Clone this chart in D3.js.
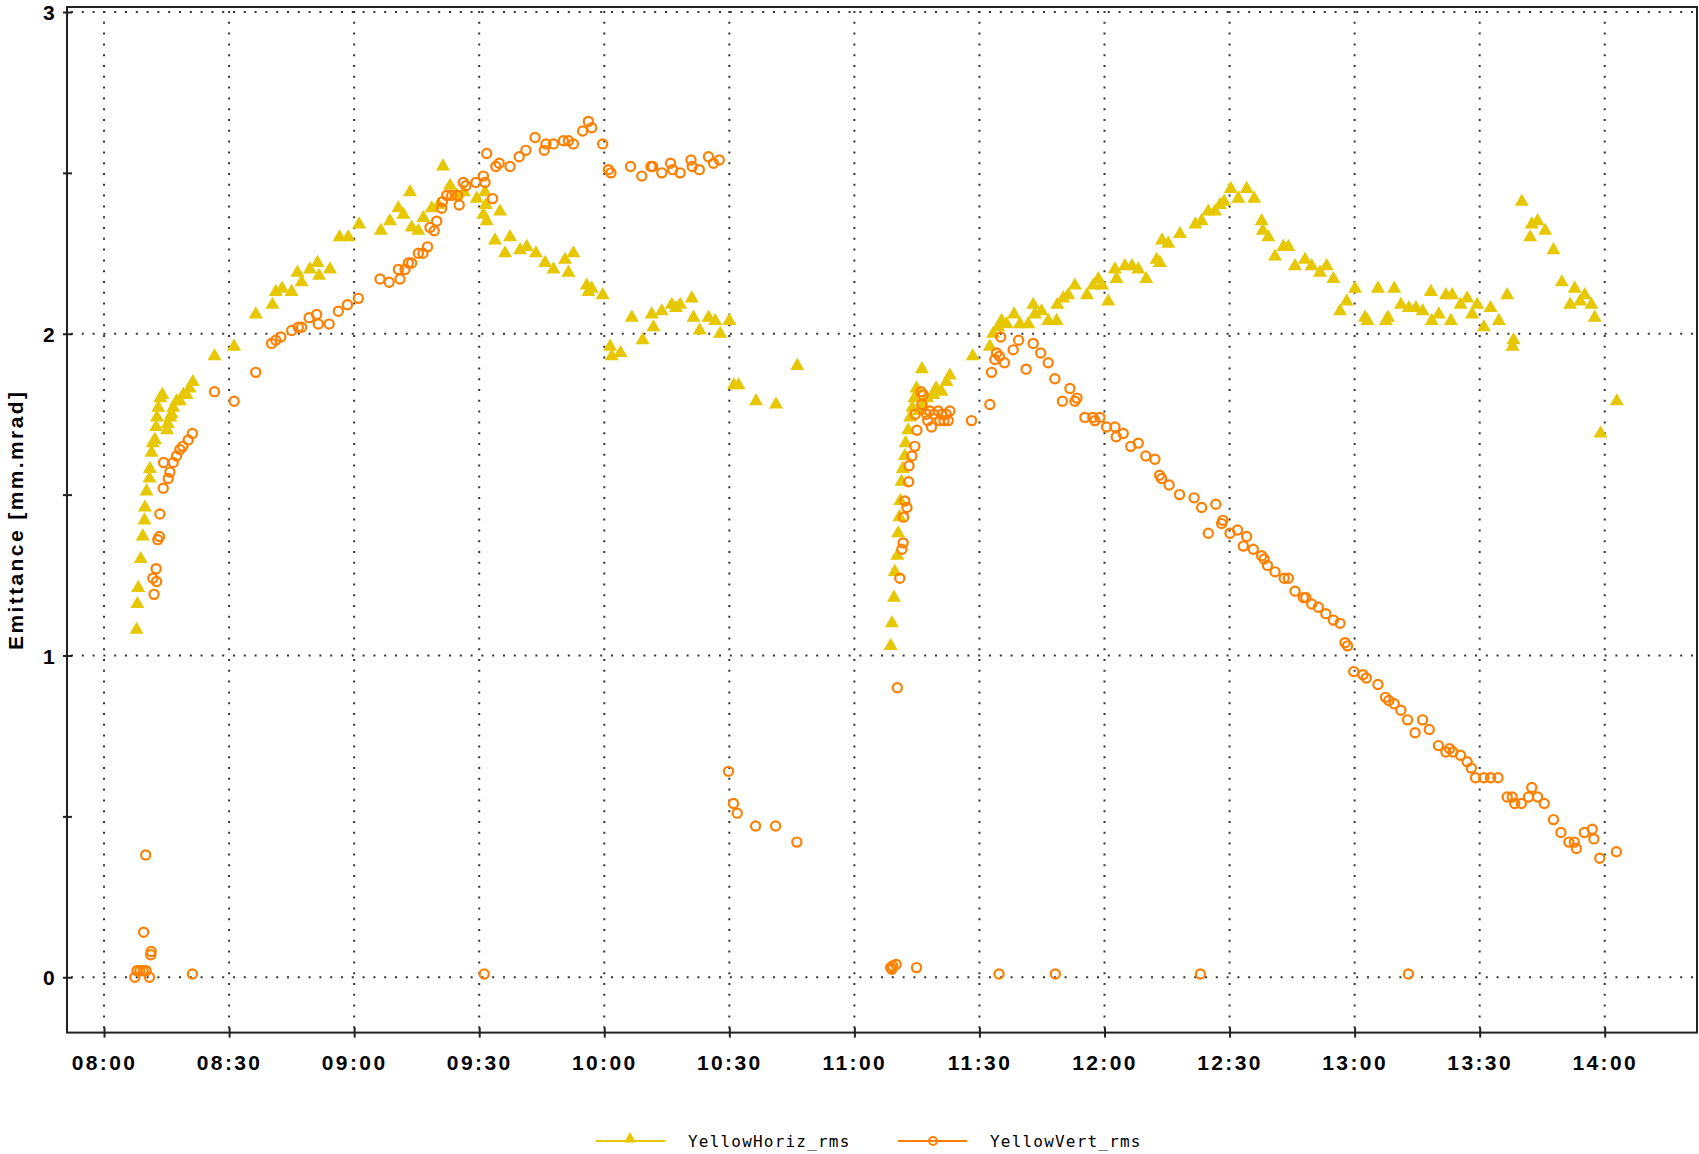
<!DOCTYPE html>
<html>
<head>
<meta charset="utf-8">
<script src="https://cdn.jsdelivr.net/npm/d3@7"></script>
<style>
	body { margin: 0; background: #fff; }
	.axis text { font-family: "Liberation Sans", Arial, sans-serif; font-weight: bold; font-size: 21px; letter-spacing: 2.4px; fill: #000; }
	.title { font-family: "Liberation Sans", Arial, sans-serif; font-weight: bold; font-size: 21px; letter-spacing: 2.4px; }
	.legend text { font-family: "DejaVu Sans Mono", monospace; font-size: 16px; letter-spacing: 1.2px; fill: #000; }
</style>
</head>
<body>
<div class="container"></div>
<script>
// axis ticks
var xTicks = ["08:00", "08:30", "09:00", "09:30", "10:00", "10:30", "11:00",
	"11:30", "12:00", "12:30", "13:00", "13:30", "14:00"];
var xDomain = ["07:51:07", "14:22:08"];
var yTicks = [0, 1, 2, 3];
var yMinorTicks = [0.5, 1.5, 2.5];
var yDomain = [-0.172, 3.0155];
var yTitle = "Emittance [mm.mrad]";
var seriesNames = ["YellowHoriz_rms", "YellowVert_rms"];

// YellowHoriz_rms [time, mm.mrad]
var horizRms = [
	["08:07:48", 1.08], ["08:08:00", 1.16], ["08:08:12", 1.21], ["08:08:48", 1.30], ["08:09:18", 1.37],
	["08:09:42", 1.42], ["08:09:48", 1.46], ["08:10:12", 1.51], ["08:10:54", 1.55], ["08:11:00", 1.58],
	["08:11:24", 1.63], ["08:11:42", 1.66], ["08:12:12", 1.67], ["08:12:30", 1.71], ["08:12:42", 1.74],
	["08:13:00", 1.77], ["08:13:30", 1.80], ["08:14:00", 1.81], ["08:15:06", 1.70], ["08:15:18", 1.72],
	["08:15:54", 1.74], ["08:16:12", 1.75], ["08:16:36", 1.77], ["08:17:24", 1.79], ["08:18:12", 1.79],
	["08:19:00", 1.81], ["08:19:48", 1.81], ["08:20:30", 1.83], ["08:21:18", 1.85],
	["08:26:30", 1.93], ["08:31:12", 1.96], ["08:36:24", 2.06], ["08:40:24", 2.09], ["08:41:12", 2.13],
	["08:42:42", 2.14], ["08:45:00", 2.13], ["08:46:24", 2.19], ["08:47:24", 2.16], ["08:49:24", 2.20],
	["08:51:12", 2.22], ["08:51:36", 2.18], ["08:54:12", 2.20], ["08:56:30", 2.30], ["08:58:36", 2.30],
	["09:01:12", 2.34], ["09:06:24", 2.32], ["09:08:36", 2.35], ["09:10:36", 2.39], ["09:11:48", 2.37],
	["09:13:24", 2.44], ["09:13:48", 2.33], ["09:15:24", 2.32], ["09:16:36", 2.36], ["09:18:36", 2.39],
	["09:20:12", 2.40], ["09:21:18", 2.52], ["09:23:00", 2.46], ["09:24:36", 2.43], ["09:26:18", 2.44],
	["09:29:24", 2.42], ["09:31:24", 2.44], ["09:31:36", 2.40], ["09:31:00", 2.37], ["09:31:48", 2.35],
	["09:35:00", 2.38], ["09:33:48", 2.29], ["09:36:12", 2.25], ["09:37:24", 2.30], ["09:39:48", 2.26],
	["09:41:24", 2.27], ["09:43:36", 2.25], ["09:45:48", 2.22], ["09:47:48", 2.20], ["09:50:36", 2.23],
	["09:52:36", 2.25], ["09:51:24", 2.19], ["09:55:48", 2.15], ["09:56:12", 2.13], ["09:57:00", 2.14],
	["09:59:36", 2.12], ["10:01:24", 1.96], ["10:01:48", 1.93], ["10:03:54", 1.94], ["10:06:36", 2.05],
	["10:09:12", 1.98], ["10:11:24", 2.06], ["10:11:48", 2.02], ["10:13:48", 2.07], ["10:16:12", 2.09],
	["10:17:12", 2.08], ["10:18:12", 2.09], ["10:21:00", 2.11], ["10:21:24", 2.05], ["10:22:54", 2.01],
	["10:25:00", 2.05], ["10:26:36", 2.04], ["10:27:48", 2.00], ["10:30:00", 2.04], ["10:31:06", 1.84],
	["10:32:12", 1.84], ["10:36:24", 1.79], ["10:41:12", 1.78], ["10:46:18", 1.90],
	["11:08:42", 1.03], ["11:09:00", 1.10], ["11:09:30", 1.18], ["11:09:42", 1.26], ["11:10:18", 1.31],
	["11:10:30", 1.38], ["11:10:48", 1.43], ["11:11:00", 1.48], ["11:11:18", 1.54], ["11:11:36", 1.58],
	["11:12:06", 1.62], ["11:12:18", 1.66], ["11:12:54", 1.70], ["11:13:24", 1.74], ["11:13:54", 1.77],
	["11:14:24", 1.80], ["11:14:54", 1.83], ["11:16:12", 1.89], ["11:15:30", 1.76], ["11:16:30", 1.78],
	["11:17:24", 1.80], ["11:18:54", 1.81], ["11:19:36", 1.83], ["11:20:54", 1.82], ["11:22:06", 1.85],
	["11:22:54", 1.87], ["11:28:24", 1.93], ["11:32:30", 1.96], ["11:33:18", 2.00], ["11:34:30", 2.02],
	["11:35:18", 2.04], ["11:36:30", 2.03], ["11:38:18", 2.06], ["11:39:42", 2.03], ["11:41:42", 2.03],
	["11:42:54", 2.09], ["11:43:18", 2.06], ["11:44:54", 2.07], ["11:46:30", 2.04], ["11:48:30", 2.04],
	["11:48:42", 2.09], ["11:50:06", 2.11], ["11:51:18", 2.12], ["11:52:54", 2.15], ["11:55:48", 2.12],
	["11:57:18", 2.15], ["11:58:30", 2.17], ["11:59:24", 2.15], ["12:00:54", 2.10], ["12:02:30", 2.20],
	["12:02:54", 2.17], ["12:04:54", 2.21], ["12:06:36", 2.21], ["12:08:06", 2.20], ["12:10:00", 2.17],
	["12:12:30", 2.23], ["12:13:18", 2.22], ["12:13:48", 2.29], ["12:15:18", 2.28], ["12:18:06", 2.31],
	["12:21:48", 2.34], ["12:23:18", 2.35], ["12:24:54", 2.38], ["12:26:30", 2.38], ["12:27:42", 2.40],
	["12:28:42", 2.41], ["12:30:18", 2.45], ["12:32:06", 2.42], ["12:34:06", 2.45], ["12:35:54", 2.42],
	["12:37:42", 2.35], ["12:38:00", 2.32], ["12:39:18", 2.30], ["12:40:54", 2.24], ["12:42:54", 2.27],
	["12:44:06", 2.27], ["12:45:42", 2.21], ["12:48:06", 2.23], ["12:49:42", 2.21], ["12:51:42", 2.19],
	["12:53:18", 2.21], ["12:54:54", 2.17], ["12:56:30", 2.07], ["12:58:06", 2.10], ["13:00:06", 2.14],
	["13:02:30", 2.05], ["13:03:06", 2.04], ["13:05:36", 2.14], ["13:07:30", 2.04], ["13:08:00", 2.05],
	["13:09:30", 2.14], ["13:11:06", 2.09], ["13:13:00", 2.08], ["13:14:42", 2.08], ["13:16:18", 2.07],
	["13:18:18", 2.13], ["13:18:30", 2.04], ["13:20:12", 2.06], ["13:21:54", 2.12], ["13:23:24", 2.12],
	["13:23:06", 2.04], ["13:25:24", 2.09], ["13:27:00", 2.11], ["13:28:12", 2.06], ["13:29:24", 2.09],
	["13:31:00", 2.02], ["13:32:36", 2.08], ["13:34:36", 2.04], ["13:36:36", 2.12], ["13:38:06", 1.98],
	["13:37:54", 1.96], ["13:40:06", 2.41], ["13:42:30", 2.34], ["13:42:06", 2.30], ["13:43:54", 2.35],
	["13:45:42", 2.32], ["13:47:42", 2.26], ["13:49:42", 2.16], ["13:51:42", 2.09], ["13:52:48", 2.14],
	["13:54:06", 2.10], ["13:55:12", 2.12], ["13:56:48", 2.09], ["13:57:36", 2.05], ["13:59:00", 1.69],
	["14:02:54", 1.79]
];

// YellowVert_rms [time, mm.mrad]
var vertRms = [
	["08:07:24", 0.00], ["08:07:54", 0.02], ["08:08:36", 0.02], ["08:09:24", 0.02], ["08:10:06", 0.02],
	["08:09:30", 0.14], ["08:10:00", 0.38], ["08:10:54", 0.00], ["08:11:12", 0.07], ["08:11:18", 0.08],
	["08:21:12", 0.01],
	["08:11:42", 1.24], ["08:12:00", 1.19], ["08:12:30", 1.27], ["08:12:36", 1.23], ["08:12:54", 1.36],
	["08:13:18", 1.37], ["08:13:24", 1.44], ["08:14:12", 1.52], ["08:14:18", 1.60], ["08:15:24", 1.55],
	["08:15:48", 1.57], ["08:16:36", 1.60], ["08:17:24", 1.62], ["08:18:12", 1.64], ["08:18:54", 1.65],
	["08:20:12", 1.67], ["08:21:12", 1.69],
	["08:26:30", 1.82], ["08:31:12", 1.79], ["08:36:24", 1.88], ["08:40:12", 1.97], ["08:41:12", 1.98],
	["08:42:24", 1.99], ["08:45:00", 2.01], ["08:46:36", 2.02], ["08:47:24", 2.02], ["08:49:12", 2.05],
	["08:51:00", 2.06], ["08:51:24", 2.03], ["08:54:00", 2.03], ["08:56:12", 2.07], ["08:58:24", 2.09],
	["09:01:00", 2.11], ["09:06:12", 2.17], ["09:08:24", 2.16], ["09:10:36", 2.20], ["09:11:00", 2.17],
	["09:12:12", 2.20], ["09:13:00", 2.22], ["09:13:48", 2.22], ["09:15:24", 2.25], ["09:16:30", 2.25],
	["09:17:36", 2.27], ["09:18:12", 2.33], ["09:19:12", 2.32], ["09:19:48", 2.35], ["09:21:00", 2.39],
	["09:21:12", 2.41], ["09:22:12", 2.43], ["09:23:24", 2.43], ["09:24:48", 2.43], ["09:25:12", 2.40],
	["09:26:12", 2.47], ["09:26:48", 2.46], ["09:29:12", 2.47], ["09:31:00", 2.49], ["09:31:24", 2.47],
	["09:33:12", 2.42], ["09:31:48", 2.56], ["09:34:00", 2.52], ["09:34:48", 2.53], ["09:37:24", 2.52],
	["09:39:36", 2.55], ["09:41:12", 2.57], ["09:43:24", 2.61], ["09:45:36", 2.57], ["09:46:00", 2.59],
	["09:47:48", 2.59], ["09:50:12", 2.60], ["09:51:24", 2.60], ["09:52:36", 2.59], ["09:54:48", 2.63],
	["09:56:12", 2.66], ["09:57:00", 2.64], ["09:59:36", 2.59], ["10:01:00", 2.51], ["10:01:36", 2.50],
	["10:06:18", 2.52], ["10:09:00", 2.49], ["10:11:12", 2.52], ["10:11:36", 2.52], ["10:13:48", 2.50],
	["10:15:54", 2.53], ["10:16:24", 2.51], ["10:18:12", 2.50], ["10:20:48", 2.54], ["10:21:06", 2.52],
	["10:22:48", 2.51], ["10:25:00", 2.55], ["10:26:12", 2.53], ["10:27:36", 2.54],
	["09:31:12", 0.01], ["10:29:48", 0.64], ["10:31:00", 0.54], ["10:31:54", 0.51], ["10:36:18", 0.47],
	["10:41:06", 0.47], ["10:46:12", 0.42],
	["11:08:42", 0.03], ["11:09:00", 0.025], ["11:09:12", 0.035], ["11:10:00", 0.04], ["11:14:54", 0.03],
	["11:34:42", 0.01], ["11:48:12", 0.01], ["12:23:00", 0.01], ["13:12:54", 0.01],
	["11:10:18", 0.90], ["11:10:54", 1.24], ["11:11:24", 1.33], ["11:11:42", 1.35], ["11:11:48", 1.43],
	["11:12:06", 1.48], ["11:12:36", 1.46], ["11:13:00", 1.54], ["11:13:06", 1.59], ["11:13:48", 1.62],
	["11:14:30", 1.65], ["11:15:00", 1.70], ["11:14:36", 1.75], ["11:16:00", 1.82], ["11:16:12", 1.78],
	["11:16:30", 1.81], ["11:17:18", 1.75], ["11:17:36", 1.73], ["11:18:06", 1.76], ["11:18:30", 1.71],
	["11:19:06", 1.75], ["11:20:06", 1.76], ["11:20:30", 1.73], ["11:21:00", 1.75], ["11:21:30", 1.73],
	["11:22:00", 1.75], ["11:22:30", 1.73], ["11:22:54", 1.76], ["11:28:06", 1.73], ["11:32:30", 1.78],
	["11:32:54", 1.88], ["11:33:42", 1.92], ["11:34:06", 1.94], ["11:34:48", 1.93], ["11:35:06", 1.99],
	["11:36:00", 1.91], ["11:38:06", 1.95], ["11:39:24", 1.98], ["11:41:12", 1.89], ["11:42:54", 1.97],
	["11:44:42", 1.94], ["11:46:30", 1.91], ["11:48:06", 1.86], ["11:49:54", 1.79], ["11:51:42", 1.83],
	["11:52:54", 1.79], ["11:53:24", 1.80], ["11:55:18", 1.74], ["11:57:12", 1.74], ["11:57:42", 1.73],
	["11:58:54", 1.74], ["12:00:30", 1.71], ["12:02:30", 1.71], ["12:02:48", 1.68], ["12:04:30", 1.69],
	["12:06:18", 1.65], ["12:08:06", 1.66], ["12:09:54", 1.62], ["12:12:06", 1.61], ["12:13:12", 1.56],
	["12:13:42", 1.55], ["12:15:30", 1.53], ["12:18:00", 1.50], ["12:21:30", 1.49], ["12:23:18", 1.46],
	["12:26:42", 1.47], ["12:24:54", 1.38], ["12:28:24", 1.42], ["12:28:06", 1.41], ["12:30:06", 1.38],
	["12:31:54", 1.39], ["12:33:18", 1.34], ["12:34:06", 1.37], ["12:35:42", 1.33], ["12:37:42", 1.31],
	["12:38:18", 1.30], ["12:39:06", 1.28], ["12:40:54", 1.26], ["12:43:06", 1.24], ["12:44:06", 1.24],
	["12:45:42", 1.20], ["12:47:42", 1.18], ["12:48:18", 1.18], ["12:49:42", 1.16], ["12:51:18", 1.15],
	["12:53:06", 1.13], ["12:54:54", 1.11], ["12:56:30", 1.10], ["12:57:42", 1.04], ["12:58:18", 1.03],
	["12:59:48", 0.95], ["13:02:00", 0.94], ["13:02:48", 0.93], ["13:05:36", 0.91], ["13:07:24", 0.87],
	["13:08:12", 0.86], ["13:09:30", 0.85], ["13:11:06", 0.83], ["13:12:42", 0.80], ["13:14:30", 0.76],
	["13:16:18", 0.80], ["13:17:54", 0.77], ["13:20:06", 0.72], ["13:21:54", 0.70], ["13:22:48", 0.71],
	["13:23:36", 0.70], ["13:25:24", 0.69], ["13:27:00", 0.67], ["13:28:00", 0.65], ["13:29:00", 0.62],
	["13:31:00", 0.62], ["13:32:36", 0.62], ["13:34:24", 0.62], ["13:36:36", 0.56], ["13:37:48", 0.56],
	["13:38:24", 0.54], ["13:40:00", 0.54], ["13:41:42", 0.56], ["13:42:30", 0.59], ["13:43:54", 0.56],
	["13:45:30", 0.54], ["13:47:42", 0.49], ["13:49:30", 0.45], ["13:51:24", 0.42], ["13:52:42", 0.42],
	["13:53:12", 0.40], ["13:55:06", 0.45], ["13:57:00", 0.46], ["13:57:24", 0.43], ["13:58:48", 0.37],
	["14:02:48", 0.39]
];

var yellow = "#e6c700";
var orange = "#ff8000";
var gridColor = "#333";

var chart = function () {

	var width = 1699, height = 1154;
	var plotLeft = 67, plotRight = 1697, plotTop = 7, plotBottom = 1032.6;

	var parseHMS = d3.timeParse("%H:%M:%S");
	var parseHM = d3.timeParse("%H:%M");

	var svg = d3.select(".container").append("svg")
		.attr("width", width)
		.attr("height", height);

	var x = d3.scaleTime()
		.domain(xDomain.map(parseHMS))
		.range([plotLeft, plotRight]);

	var y = d3.scaleLinear()
		.domain(yDomain)
		.range([plotBottom, plotTop]);

	// dotted grid
	svg.append("g").selectAll("line")
		.data(xTicks.map(parseHM))
		.enter().append("line")
			.attr("x1", function (d) { return x(d); })
			.attr("x2", function (d) { return x(d); })
			.attr("y1", plotTop + 4)
			.attr("y2", plotBottom)
			.attr("stroke", gridColor)
			.attr("stroke-width", 2)
			.attr("stroke-dasharray", "2 8.8");

	svg.append("g").selectAll("line")
		.data(yTicks)
		.enter().append("line")
			.attr("x1", plotLeft + 4)
			.attr("x2", plotRight)
			.attr("y1", function (d) { return y(d); })
			.attr("y2", function (d) { return y(d); })
			.attr("stroke", gridColor)
			.attr("stroke-width", 2)
			.attr("stroke-dasharray", "2 8.8");

	// axes
	var xAxis = d3.axisBottom(x)
		.tickValues(xTicks.map(parseHM))
		.tickFormat(d3.timeFormat("%H:%M"))
		.tickSize(5)
		.tickPadding(17);

	var gx = svg.append("g")
		.attr("class", "axis")
		.attr("transform", "translate(0," + plotBottom + ")")
		.call(xAxis);
	gx.select(".domain").remove();
	gx.selectAll(".tick line").attr("y1", -5).attr("stroke", "#222").attr("stroke-width", 2);

	var yAxis = d3.axisLeft(y)
		.tickValues(yTicks.concat(yMinorTicks))
		.tickFormat(function (d) { return yTicks.indexOf(d) >= 0 ? d : ""; })
		.tickSize(4)
		.tickPadding(6);

	var gy = svg.append("g")
		.attr("class", "axis")
		.attr("transform", "translate(" + plotLeft + ",0)")
		.call(yAxis);
	gy.select(".domain").remove();
	gy.selectAll(".tick line").attr("x2", -4).attr("x1", 5).attr("stroke", "#222").attr("stroke-width", 2);
	gy.selectAll(".tick text").attr("dy", "0.36em");

	// frame
	svg.append("rect")
		.attr("x", plotLeft)
		.attr("y", plotTop)
		.attr("width", plotRight - plotLeft)
		.attr("height", plotBottom - plotTop)
		.attr("fill", "none")
		.attr("stroke", "#222")
		.attr("stroke-width", 2);

	// y title
	svg.append("text")
		.attr("class", "title")
		.attr("transform", "translate(23," + ((plotTop + plotBottom) / 2) + ") rotate(-90)")
		.attr("text-anchor", "middle")
		.text(yTitle);

	// markers, vertical drawn on top
	var triangle = d3.symbol().type(d3.symbolTriangle).size(85);

	svg.append("g").selectAll("path")
		.data(horizRms)
		.enter().append("path")
			.attr("d", triangle)
			.attr("transform", function (d) {
				return "translate(" + x(parseHMS(d[0])) + "," + y(d[1]) + ")";
			})
			.attr("fill", yellow);

	svg.append("g").selectAll("circle")
		.data(vertRms)
		.enter().append("circle")
			.attr("cx", function (d) { return x(parseHMS(d[0])); })
			.attr("cy", function (d) { return y(d[1]); })
			.attr("r", 4.6)
			.attr("fill", "none")
			.attr("stroke", orange)
			.attr("stroke-width", 2.2);

	// legend
	var legend = svg.append("g").attr("class", "legend");
	var legendItems = [
		{ name: seriesNames[0], color: yellow, x0: 596 },
		{ name: seriesNames[1], color: orange, x0: 898 }
	];
	var legendY = 1141;

	legendItems.forEach(function (item, i) {
		legend.append("line")
			.attr("x1", item.x0)
			.attr("x2", item.x0 + 69)
			.attr("y1", legendY)
			.attr("y2", legendY)
			.attr("stroke", item.color)
			.attr("stroke-width", 2);

		if (i === 0) {
			legend.append("path")
				.attr("d", d3.symbol().type(d3.symbolTriangle).size(62))
				.attr("transform", "translate(" + (item.x0 + 34) + "," + (legendY - 2) + ")")
				.attr("fill", item.color);
		} else {
			legend.append("circle")
				.attr("cx", item.x0 + 35)
				.attr("cy", legendY)
				.attr("r", 4)
				.attr("fill", "none")
				.attr("stroke", item.color)
				.attr("stroke-width", 2);
		}

		legend.append("text")
			.attr("x", item.x0 + 92)
			.attr("y", legendY + 6)
			.text(item.name);
	});
};

chart();
</script>
</body>
</html>
